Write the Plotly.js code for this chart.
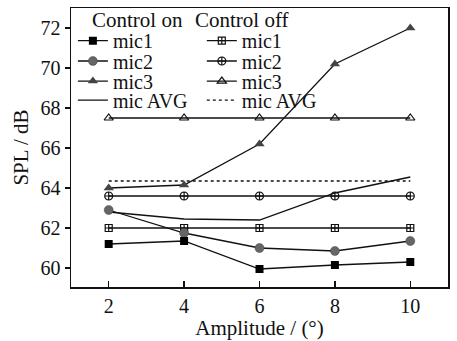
<!DOCTYPE html>
<html>
<head>
<meta charset="utf-8">
<script src="https://cdn.plot.ly/plotly-3.0.1.min.js"></script>
<style>html,body{margin:0;padding:0;background:#fff;}#chart{width:457px;height:341px;}</style>
</head>
<body>
<div id="chart"></div>
<script>
// Data
const amplitude = [2, 4, 6, 8, 10];
const onMic1 = [61.2, 61.35, 59.95, 60.15, 60.3];
const onMic2 = [62.9, 61.75, 61.0, 60.85, 61.35];
const onMic3 = [64.0, 64.15, 66.2, 70.2, 72.0];
const onAvg  = [62.8, 62.45, 62.4, 63.75, 64.55];
const offMic1 = [62.0, 62.0, 62.0, 62.0, 62.0];
const offMic2 = [63.6, 63.6, 63.6, 63.6, 63.6];
const offMic3 = [67.5, 67.5, 67.5, 67.5, 67.5];
const offAvg  = [64.35, 64.35, 64.35, 64.35, 64.35];
const seriesNames = ['mic1', 'mic2', 'mic3', 'mic AVG'];
const groupHeaders = ['Control on', 'Control off'];
const xTicks = [2, 4, 6, 8, 10];
const yTicks = [60, 62, 64, 66, 68, 70, 72];

const FONT = 'Liberation Serif, Times New Roman, serif';
const lineW = 1.3;

function tr(y, name, legend, marker, dash) {
  const t = {
    x: amplitude, y: y, name: name, legend: legend, type: 'scatter',
    mode: marker ? 'lines+markers' : 'lines',
    line: {color: '#111', width: lineW, dash: dash || 'solid'},
    cliponaxis: false
  };
  if (marker) t.marker = marker;
  return t;
}

const data = [
  tr(offAvg, seriesNames[3], 'legend8', null, 'dot'),
  tr(offMic3, seriesNames[2], 'legend7', {symbol: 'triangle-up-open', size: 8, color: '#111', line: {width: 1.2}}),
  tr(offMic2, seriesNames[1], 'legend6', {symbol: 'circle-cross-open', size: 8, color: '#111', line: {width: 1.2}}),
  tr(offMic1, seriesNames[0], 'legend5', {symbol: 'square-cross-open', size: 7, color: '#111', line: {width: 1.2}}),
  tr(onAvg, seriesNames[3], 'legend4', null),
  tr(onMic3, seriesNames[2], 'legend3', {symbol: 'triangle-up', size: 9, color: '#444'}),
  tr(onMic2, seriesNames[1], 'legend2', {symbol: 'circle', size: 9, color: '#666', line: {color: '#444', width: 0.5}}),
  tr(onMic1, seriesNames[0], 'legend', {symbol: 'square', size: 8, color: '#000'})
];

const rowsY = [0.883, 0.81, 0.738, 0.67];
const colX = [0.005, 0.347];
function leg(x, y) {
  return {x: x, y: y, xanchor: 'left', yanchor: 'middle', bgcolor: 'rgba(0,0,0,0)',
          borderwidth: 0, font: {family: FONT, size: 20, color: '#111'}, tracegroupgap: 0};
}

const layout = {
  width: 457, height: 341,
  margin: {l: 71, r: 9, t: 8, b: 54},
  paper_bgcolor: '#fff', plot_bgcolor: '#fff',
  font: {family: FONT, size: 20, color: '#111'},
  showlegend: true,
  legend: leg(colX[0], rowsY[0]),
  legend2: leg(colX[0], rowsY[1]),
  legend3: leg(colX[0], rowsY[2]),
  legend4: leg(colX[0], rowsY[3]),
  legend5: leg(colX[1], rowsY[0]),
  legend6: leg(colX[1], rowsY[1]),
  legend7: leg(colX[1], rowsY[2]),
  legend8: leg(colX[1], rowsY[3]),
  xaxis: {
    range: [1, 11], tickvals: xTicks, ticktext: xTicks.map(String),
    ticks: 'inside', ticklen: 6, tickwidth: 1.3, tickcolor: '#111',
    showline: true, linecolor: '#111', linewidth: 1.5, mirror: true,
    showgrid: false, zeroline: false,
    tickfont: {family: FONT, size: 20, color: '#111'},
    title: {text: 'Amplitude / (°)', font: {family: FONT, size: 21, color: '#111'}, standoff: 2}
  },
  yaxis: {
    range: [59.05, 73], tickvals: yTicks, ticktext: yTicks.map(String),
    ticks: 'outside', ticklen: 5, tickwidth: 1.3, tickcolor: '#111',
    showline: true, linecolor: '#111', linewidth: 1.5, mirror: true,
    showgrid: false, zeroline: false,
    tickfont: {family: FONT, size: 20, color: '#111'},
    title: {text: 'SPL / dB', font: {family: FONT, size: 21, color: '#111'}, standoff: 6}
  },
  annotations: [
    {xref: 'paper', yref: 'paper', x: 0.05, y: 0.957, xanchor: 'left', yanchor: 'middle',
     text: groupHeaders[0], showarrow: false, font: {family: FONT, size: 21, color: '#111'}},
    {xref: 'paper', yref: 'paper', x: 0.324, y: 0.957, xanchor: 'left', yanchor: 'middle',
     text: groupHeaders[1], showarrow: false, font: {family: FONT, size: 21, color: '#111'}}
  ]
};

Plotly.newPlot('chart', data, layout, {staticPlot: true, displayModeBar: false});
</script>
</body>
</html>
